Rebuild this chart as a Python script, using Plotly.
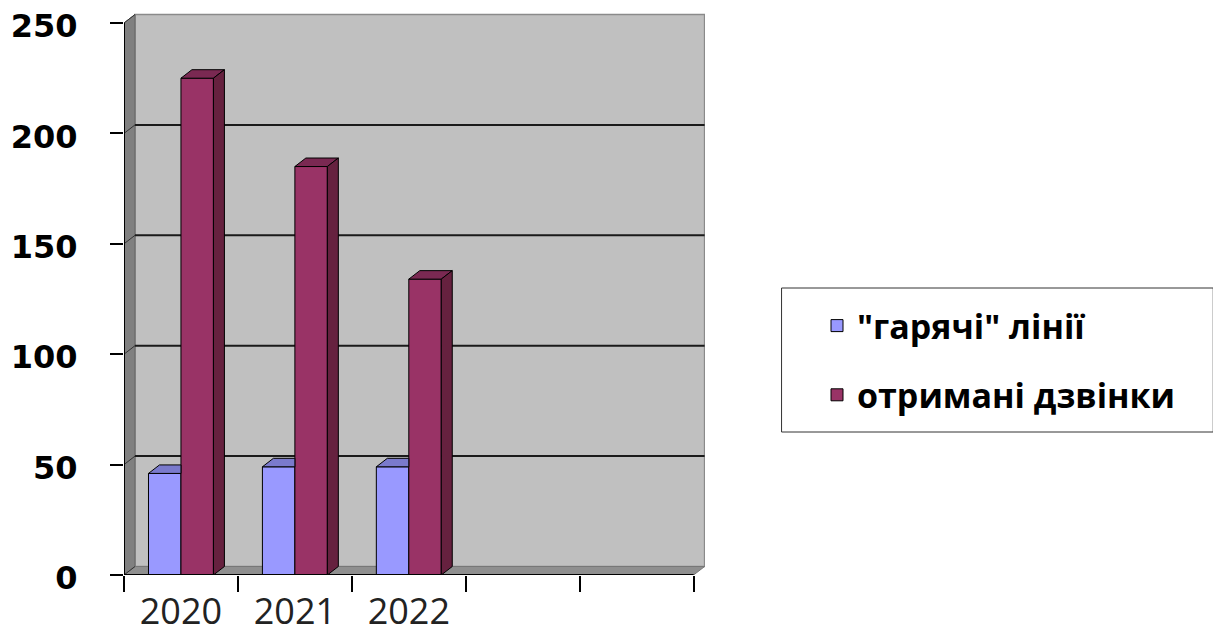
import plotly.graph_objects as go

categories = ["2020", "2021", "2022", " ", "  "]
years = ["2020", "2021", "2022"]
hot_lines = [46, 49, 49]
calls = [225, 185, 134]
series_names = ['"гарячі" лінії', "отримані дзвінки"]
y_ticks = [0, 50, 100, 150, 200, 250]

# style
C_HOT = "#9999FF"
C_HOT_TOP = "#7A7ACC"
C_CALL = "#993366"
C_CALL_TOP = "#7A2952"
C_CALL_SIDE = "#66213F"
WALL = "#C0C0C0"
SIDE_WALL = "#808080"
FLOOR = "#8F8F8F"

OFF = 8  # page body margin
W, H = 1221, 638
ML, MT, MB = 124 - OFF, 0, 638 - (575 - OFF)
X_MIN, X_MAX = -0.5, 4.6
px_per_x = 114.0
MR = W - ML - px_per_x * (X_MAX - X_MIN)
px_per_y = (575 - 23) / 250
Y_MAX = (H - MT - MB) / px_per_y
BARGAP = 0.43
DX = 11 / px_per_x   # depth offset in data units
DY = 8.5 / px_per_y
TOP = 250
RIGHT = 4.5

fig = go.Figure()
fig.add_trace(go.Bar(x=years, y=hot_lines, name=series_names[0], marker=dict(color=C_HOT, line=dict(color="black", width=1)), legendgroup="a"))
fig.add_trace(go.Bar(x=years, y=calls, name=series_names[1], marker=dict(color=C_CALL, line=dict(color="black", width=1)), legendgroup="b"))

shapes = []
def poly(pts, fill, line="black", lw=1, layer="above"):
    d = "M" + " L".join(f"{x},{y}" for x, y in pts) + " Z"
    shapes.append(dict(type="path", path=d, xref="x", yref="y", fillcolor=fill,
                       line=dict(color=line, width=lw), layer=layer))

# walls
poly([(X_MIN + DX, DY), (RIGHT + DX, DY), (RIGHT + DX, TOP + DY), (X_MIN + DX, TOP + DY)], WALL, line="#8A8A8A", lw=1.5, layer="below")
poly([(X_MIN, 0), (X_MIN, TOP), (X_MIN + DX, TOP + DY), (X_MIN + DX, DY)], SIDE_WALL, line="#666666", lw=1, layer="below")
poly([(X_MIN, 0), (RIGHT, 0), (RIGHT + DX, DY), (X_MIN + DX, DY)], FLOOR, line="#777777", lw=1, layer="below")
# gridlines on back wall + diagonals on side wall
for v in y_ticks[1:-1]:
    shapes.append(dict(type="line", xref="x", yref="y", x0=X_MIN + DX, x1=RIGHT + DX, y0=v + DY, y1=v + DY,
                       line=dict(color="#1a1a1a", width=2), layer="below"))
for v in y_ticks:
    shapes.append(dict(type="line", xref="x", yref="y", x0=X_MIN, x1=X_MIN + DX, y0=v, y1=v + DY,
                       line=dict(color="#333333", width=1), layer="below"))
# front axis lines
shapes.append(dict(type="line", xref="x", yref="y", x0=X_MIN, x1=RIGHT, y0=0, y1=0, line=dict(color="black", width=2), layer="above"))
shapes.append(dict(type="line", xref="x", yref="y", x0=X_MIN, x1=X_MIN, y0=0, y1=TOP, line=dict(color="black", width=2), layer="above"))

# 3D faces of bars
bw = (1 - BARGAP) / 2
for i, (h, c) in enumerate(zip(hot_lines, calls)):
    xl = i - bw
    xm = i
    xr = i + bw
    # hot top (clipped by the calls bar in front)
    poly([(xl, h), (xm, h), (xm, h + DY), (xl + DX, h + DY)], C_HOT_TOP)
    # calls top and side
    poly([(xm, c), (xr, c), (xr + DX, c + DY), (xm + DX, c + DY)], C_CALL_TOP)
    poly([(xr, 0), (xr, c), (xr + DX, c + DY), (xr + DX, DY)], C_CALL_SIDE)

# legend box (screen px -> paper)
def px2paper_x(p):
    return (p - OFF - ML) / (W - ML - MR)
def px2paper_y(p):
    return (H - MB - (p - OFF)) / (H - MT - MB)
shapes.append(dict(type="rect", xref="paper", yref="paper", x0=px2paper_x(782), x1=px2paper_x(1214),
                   y0=px2paper_y(432), y1=px2paper_y(288), line=dict(color="#333333", width=1), fillcolor="white", layer="below"))

fig.update_layout(
    width=W, height=H,
    margin=dict(l=ML, r=MR, t=MT, b=MB, autoexpand=False),
    paper_bgcolor="white", plot_bgcolor="white",
    barmode="group", bargap=BARGAP, bargroupgap=0,
    shapes=shapes,
    showlegend=True,
    legend=dict(xref="container", yref="container", x=(817 - OFF) / W, y=1 - (297 - OFF) / H, xanchor="left", yanchor="top",
                font=dict(family="Open Sans", size=34, color="black", weight="bold"),
                bgcolor="rgba(0,0,0,0)", borderwidth=0, traceorder="grouped", tracegroupgap=22),
    xaxis=dict(type="category", categoryorder="array", categoryarray=categories, range=[X_MIN, X_MAX],
               tickson="boundaries", ticks="outside", ticklen=16, tickcolor="black", tickwidth=1.5,
               showgrid=False, showline=False, zeroline=False, ticklabelstandoff=12,
               tickfont=dict(family="Open Sans", size=36, color="#222222")),
    yaxis=dict(range=[0, Y_MAX], tickvals=y_ticks, ticks="outside", ticklen=13, tickcolor="black", tickwidth=1.5,
               showgrid=False, showline=False, zeroline=False, ticklabelstandoff=26, ticklabeloverflow="allow",
               ticklabelshift=3,
               tickfont=dict(family="DejaVu Sans", size=32, color="black", weight="bold")),
)

fig.write_html("out.html")
